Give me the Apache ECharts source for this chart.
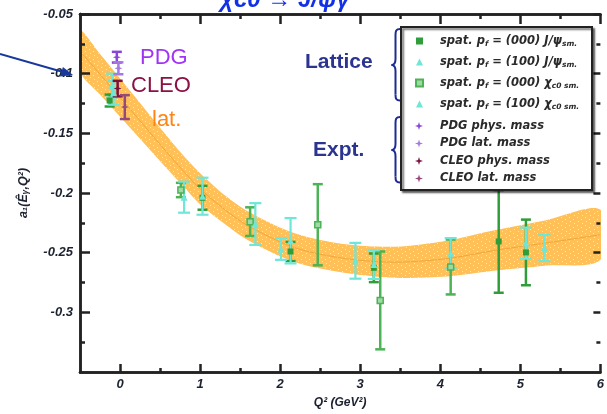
<!DOCTYPE html>
<html><head><meta charset="utf-8">
<script src="https://cdn.jsdelivr.net/npm/echarts@6/dist/echarts.min.js"></script>
<style>html,body{margin:0;padding:0;background:#fff}#c{width:607px;height:414px}</style>
</head><body><div id="c"></div>
<script>
// Lattice fit band: centre value and half-width at each Q^2 (GeV^2)
const bandQ2   = [-0.5, -0.25, 0, 0.25, 0.49, 0.75, 0.985, 1.3, 1.6, 2.19, 2.82, 3.44, 4.08, 4.69, 5.31, 6.0];
const bandMid  = [-0.081, -0.1005, -0.120, -0.1395, -0.1585, -0.1785, -0.1955, -0.2135, -0.2275, -0.246, -0.255, -0.258, -0.255, -0.248, -0.242, -0.235];
const bandHalf = [0.017, 0.017, 0.016, 0.015, 0.014, 0.013, 0.013, 0.012, 0.012, 0.012, 0.012, 0.013, 0.015, 0.017, 0.019, 0.021];

// Lattice points: [Q^2, value, error]
const jpsi000 = [[-0.13,-0.1225,0.005],[1.03,-0.204,0.010],[2.13,-0.249,0.008],[3.17,-0.2627,0.012],[4.73,-0.2406,0.043],[5.07,-0.2498,0.0275]];
const jpsi100 = [[-0.10,-0.110,0.010],[1.03,-0.2027,0.0155],[2.13,-0.240,0.019],[3.17,-0.260,0.012],[5.07,-0.242,0.013]];
const chi000  = [[0.76,-0.1975,0.006],[1.625,-0.224,0.012],[2.47,-0.2266,0.034],[3.25,-0.290,0.041],[4.13,-0.262,0.023]];
const chi100  = [[-0.08,-0.116,0.010],[0.80,-0.2035,0.013],[1.69,-0.226,0.0175],[2.01,-0.247,0.009],[2.94,-0.2568,0.015],[4.13,-0.2504,0.0126],[5.30,-0.246,0.011]];

// Experimental points at the real-photon point
const pdgPhys  = [[-0.04,-0.0862,0.0045]];
const pdgLat   = [[-0.02,-0.0955,0.0050]];
const cleoPhys = [[-0.03,-0.1125,0.0065]];
const cleoLat  = [[0.06,-0.1280,0.0100]];

// Axis ticks and labels
const xMajor = [0, 1, 2, 3, 4, 5, 6];
const xMinor = [0.5, 1.5, 2.5, 3.5, 4.5, 5.5];
const yMajor = [-0.3, -0.25, -0.2, -0.15, -0.1, -0.05];
const yMinor = [-0.325, -0.275, -0.225, -0.175, -0.125, -0.075];

const FONT = 'Liberation Sans, Arial, sans-serif';
const LFONT = 'DejaVu Sans, sans-serif';
const AX = '#222';
const GREEN = '#2f9e3a', GREEN2 = '#4cb356', CYAN = '#6ee6d8';
const PDG1 = '#8a45d8', PDG2 = '#a778e2', CLEO1 = '#7c1240', CLEO2 = '#954a7c';

// speckled orange fill for the band
const pc = document.createElement('canvas'); pc.width = 8; pc.height = 8;
const g = pc.getContext('2d');
g.fillStyle = '#ffb53a'; g.fillRect(0, 0, 8, 8);
g.fillStyle = 'rgba(255,255,255,0.6)';
g.fillRect(1, 1, 1, 1); g.fillRect(5, 3, 1, 1); g.fillRect(2, 5, 1, 1); g.fillRect(6, 7, 1, 1);

function errorBars(name, data, color, cap, width, z) {
  return {
    type: 'custom', name: name, silent: true, z: z,
    data: data.map(d => [d[0], d[1] - d[2], d[1] + d[2]]),
    encode: { x: 0, y: [1, 2] },
    renderItem: function (params, api) {
      const lo = api.coord([api.value(0), api.value(1)]);
      const hi = api.coord([api.value(0), api.value(2)]);
      const st = { stroke: color, lineWidth: width };
      return { type: 'group', children: [
        { type: 'line', shape: { x1: lo[0], y1: lo[1], x2: hi[0], y2: hi[1] }, style: st },
        { type: 'line', shape: { x1: lo[0] - cap, y1: lo[1], x2: lo[0] + cap, y2: lo[1] }, style: st },
        { type: 'line', shape: { x1: hi[0] - cap, y1: hi[1], x2: hi[0] + cap, y2: hi[1] }, style: st }
      ]};
    }
  };
}
function points(name, data, symbol, size, color, z, border) {
  return {
    type: 'scatter', name: name, symbol: symbol, symbolSize: size, z: z, silent: true,
    data: data.map(d => [d[0], d[1]]),
    itemStyle: { color: color, opacity: 1, borderColor: border || color, borderWidth: border ? 1.5 : 0 }
  };
}
const STAR = 'path://M5,0 L6.2,3.8 L10,5 L6.2,6.2 L5,10 L3.8,6.2 L0,5 L3.8,3.8 Z';

const legendText = {
  'J000': '{g|}{t|spat. p}{s|f}{t| = (000) J/ψ}{s|sm.}',
  'J100': '{g|}{t|spat. p}{s|f}{t| = (100) J/ψ}{s|sm.}',
  'C000': '{g|}{t|spat. p}{s|f}{t| = (000) χ}{s|c0 sm.}',
  'C100': '{g|}{t|spat. p}{s|f}{t| = (100) χ}{s|c0 sm.}',
  'PDGp': '{g|}{t|PDG phys. mass}',
  'PDGl': '{g|}{t|PDG lat. mass}',
  'CLEOp': '{g|}{t|CLEO phys. mass}',
  'CLEOl': '{g|}{t|CLEO lat. mass}'
};
const legendRich = {
  g: { width: 12 },
  t: { fontFamily: LFONT, fontSize: 11.5, fontStyle: 'italic', fontWeight: 'bold', color: '#2a2a2a', lineHeight: 14 },
  s: { fontFamily: LFONT, fontSize: 7.5, fontStyle: 'italic', fontWeight: 'bold', color: '#2a2a2a', lineHeight: 7, verticalAlign: 'bottom' }
};

const tickLabel = { fontFamily: FONT, fontSize: 13, fontStyle: 'italic', fontWeight: 'bold', color: '#1d2230' };
function xAx(pos, vals, len, label) {
  return {
    type: 'value', position: pos, min: -0.5, max: 6,
    axisLine: { show: true, onZero: false, lineStyle: { color: AX, width: 2.5 } },
    axisTick: { show: true, inside: true, length: len, customValues: vals, lineStyle: { color: AX, width: 2.5 } },
    axisLabel: label ? Object.assign({ customValues: xMajor, margin: 6 }, tickLabel) : { show: false },
    splitLine: { show: false }
  };
}
function yAx(pos, vals, len, label, line) {
  return {
    type: 'value', position: pos, min: -0.35, max: -0.05,
    axisLine: { show: line, onZero: false, lineStyle: { color: AX, width: 2.5 } },
    axisTick: { show: true, inside: true, length: len, customValues: vals, lineStyle: { color: AX, width: 2.5 } },
    axisLabel: label ? Object.assign({ customValues: yMajor, margin: 7 }, tickLabel) : { show: false },
    splitLine: { show: false }
  };
}

const xAxes = [xAx('bottom', xMajor, 8, true), xAx('bottom', xMinor, 4, false), xAx('top', xMajor, 10, false), xAx('top', xMinor, 5, false)];
Object.assign(xAxes[0], { name: 'Q² (GeV²)', nameLocation: 'middle', nameGap: 25,
  nameTextStyle: { fontFamily: FONT, fontSize: 12, fontStyle: 'italic', fontWeight: 'bold', color: '#1d2230' } });
const yAxes = [yAx('left', yMajor, 10, true, true), yAx('left', yMinor, 5, false, true), yAx('right', yMajor, 7, false, false), yAx('right', yMinor, 4, false, false)];
Object.assign(yAxes[0], { name: 'a₁(Êᵧ,Q²)', nameLocation: 'middle', nameGap: 50, nameRotate: 90,
  nameTextStyle: { fontFamily: FONT, fontSize: 12.5, fontStyle: 'italic', fontWeight: 'bold', color: '#1d2230' } });

// curly brace built from bezier pieces: top y0, tip ym, bottom y1
function brace(y0, ym, y1) {
  const st = { stroke: '#1c2c94', lineWidth: 2, fill: null };
  const xo = 400, xb = 395.5, xt = 391.5;
  return { type: 'group', z: 10, children: [
    { type: 'bezierCurve', shape: { x1: xo, y1: y0, x2: xb, y2: y0 + 6, cpx1: xb + 0.5, cpy1: y0, cpx2: xb, cpy2: y0 + 2 }, style: st },
    { type: 'line', shape: { x1: xb, y1: y0 + 6, x2: xb, y2: ym - 6 }, style: st },
    { type: 'bezierCurve', shape: { x1: xb, y1: ym - 6, x2: xt, y2: ym, cpx1: xb, cpy1: ym - 2, cpx2: xt + 3, cpy2: ym }, style: st },
    { type: 'bezierCurve', shape: { x1: xt, y1: ym, x2: xb, y2: ym + 6, cpx1: xt + 3, cpy1: ym, cpx2: xb, cpy2: ym + 2 }, style: st },
    { type: 'line', shape: { x1: xb, y1: ym + 6, x2: xb, y2: y1 - 6 }, style: st },
    { type: 'bezierCurve', shape: { x1: xb, y1: y1 - 6, x2: xo, y2: y1, cpx1: xb, cpy1: y1 - 2, cpx2: xb + 0.5, cpy2: y1 }, style: st }
  ]};
}

// lattice fit band drawn as one smoothed polygon through the band edges
const bandSeries = {
  type: 'custom', silent: true, z: -1, clip: true, data: [0],
  encode: { x: -1, y: -1 },
  renderItem: function (params, api) {
    const up = bandQ2.map((q, i) => api.coord([q, bandMid[i] + bandHalf[i]]));
    const lo = bandQ2.map((q, i) => api.coord([q, bandMid[i] - bandHalf[i]])).reverse();
    const mid = bandQ2.map((q, i) => api.coord([q, bandMid[i]]));
    return { type: 'group', children: [
      { type: 'polygon', shape: { points: up.concat(lo), smooth: 0.3 },
        style: { fill: { image: pc, repeat: 'repeat' }, opacity: 0.85 } },
      { type: 'polyline', shape: { points: mid, smooth: 0.3 },
        style: { stroke: 'rgba(225,135,20,0.45)', lineWidth: 1, fill: null } }
    ]};
  }
};

const NAVY = '#2b3590';
const option = {
  animation: false,
  grid: { left: 80, right: 1, top: 14, bottom: 42 },
  xAxis: xAxes,
  yAxis: yAxes,
  legend: [
    { left: 410, top: 30, orient: 'vertical', itemGap: 8, itemWidth: 7, itemHeight: 7, z: 6, selectedMode: false,
      data: [{ name: 'J000', icon: 'rect' }, { name: 'J100', icon: 'triangle' }, { name: 'C000', icon: 'rect' }, { name: 'C100', icon: 'triangle' }],
      formatter: n => legendText[n], textStyle: { rich: legendRich } },
    { left: 410, top: 115, orient: 'vertical', itemGap: 5.5, itemWidth: 8, itemHeight: 8, z: 6, selectedMode: false,
      data: [{ name: 'PDGp', icon: STAR }, { name: 'PDGl', icon: STAR }, { name: 'CLEOp', icon: STAR }, { name: 'CLEOl', icon: STAR }],
      formatter: n => legendText[n], textStyle: { rich: legendRich } }
  ],
  series: [
    bandSeries,
    errorBars('e1', jpsi000, GREEN, 5, 2.5, 3),
    errorBars('e3', chi000, GREEN2, 5, 2.5, 3),
    errorBars('e2', jpsi100, CYAN, 6, 2.2, 3),
    errorBars('e4', chi100, CYAN, 6, 2.2, 3),
    errorBars('e5', pdgPhys, PDG1, 5, 2.5, 4),
    errorBars('e6', pdgLat, PDG2, 5, 2.5, 4),
    errorBars('e7', cleoPhys, CLEO1, 5, 2.5, 4),
    errorBars('e8', cleoLat, CLEO2, 5, 2.5, 4),

    points('J000', jpsi000, 'rect', 6, GREEN, 5),
    points('C000', chi000, 'rect', 6, '#9fd9a4', 5, GREEN2),
    points('J100', jpsi100, 'triangle', 7, CYAN, 5),
    points('C100', chi100, 'triangle', 7, CYAN, 5),
    points('PDGp', pdgPhys, STAR, 8, PDG1, 6),
    points('PDGl', pdgLat, STAR, 8, PDG2, 6),
    points('CLEOp', cleoPhys, STAR, 8, CLEO1, 6),
    points('CLEOl', cleoLat, STAR, 8, CLEO2, 6)
  ],
  graphic: [
    // partially visible plot title
    { type: 'text', x: 285, y: 12, z: 10, style: { text: 'χc0 → J/ψγ', font: 'italic bold 24px ' + FONT, fill: '#1230e6', align: 'center', verticalAlign: 'bottom' } },
    // arrow pointing at the axis
    { type: 'polyline', z: 10, shape: { points: [[0, 54], [63, 72]] }, style: { stroke: '#17399c', lineWidth: 2 } },
    { type: 'polygon', z: 10, shape: { points: [[73, 75], [62.9, 66.9], [60.1, 76.5]] }, style: { fill: '#17399c' } },
    // labels next to the experimental points
    { type: 'text', x: 140, y: 69, z: 10, style: { text: 'PDG', font: '22px ' + FONT, fill: '#a033f5', verticalAlign: 'bottom' } },
    { type: 'text', x: 131, y: 97, z: 10, style: { text: 'CLEO', font: '22px ' + FONT, fill: '#8c1144', verticalAlign: 'bottom' } },
    { type: 'text', x: 152, y: 131, z: 10, style: { text: 'lat.', font: '22px ' + FONT, fill: '#ff8414', verticalAlign: 'bottom' } },
    // group headings with braces
    { type: 'text', x: 305, y: 73, z: 10, style: { text: 'Lattice', font: 'bold 21px ' + FONT, fill: NAVY, verticalAlign: 'bottom' } },
    { type: 'text', x: 313, y: 161, z: 10, style: { text: 'Expt.', font: 'bold 21px ' + FONT, fill: NAVY, verticalAlign: 'bottom' } },
    brace(29, 65, 100.5),
    brace(117, 150, 182.5),
    // legend frame
    { type: 'rect', z: 5, shape: { x: 401, y: 27, width: 191, height: 163 },
      style: { fill: '#fff', stroke: '#222', lineWidth: 2, shadowColor: 'rgba(0,0,0,0.55)', shadowOffsetX: 2, shadowOffsetY: 2, shadowBlur: 2 } }
  ]
};
echarts.init(document.getElementById('c'), null, { renderer: 'canvas' }).setOption(option);
</script>
</body></html>
